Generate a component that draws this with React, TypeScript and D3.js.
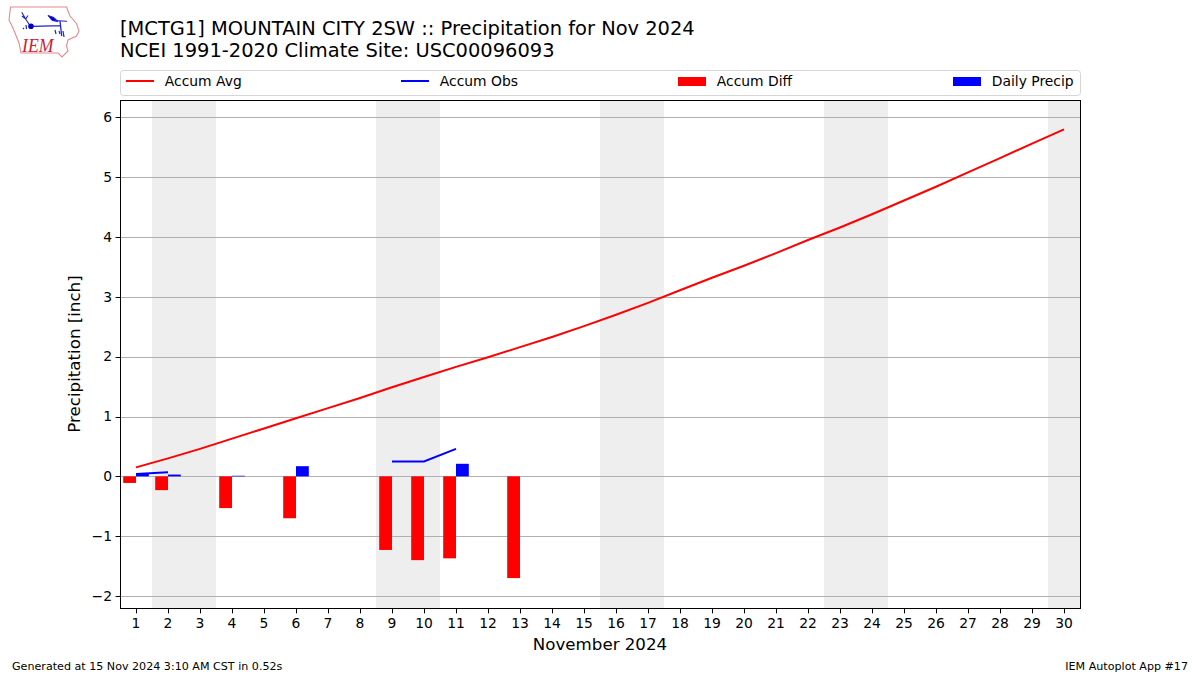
import React from "react";
import * as d3 from "d3";

const days = d3.range(1, 31);
const accumAvg = [0.15,0.30,0.46,0.63,0.80,0.97,1.14,1.31,1.49,1.66,1.83,1.99,2.16,2.33,2.51,2.70,2.90,3.11,3.32,3.52,3.73,3.95,4.16,4.38,4.61,4.84,5.08,5.32,5.56,5.80];
const accumObs: (number | null)[] = [0.04,0.07,null,null,null,null,null,null,0.25,0.25,0.46];
const diffDays = [1,2,4,6,9,10,11,13];
const diffValues = [-0.11,-0.23,-0.53,-0.70,-1.23,-1.40,-1.37,-1.70];
const dailyDays = [1,2,4,6,11];
const dailyValues = [0.05,0.03,0.01,0.17,0.21];
const weekendBands = [[1.5,3.5],[8.5,10.5],[15.5,17.5],[22.5,24.5],[29.5,30.5]];
const yTicks = [-2,-1,0,1,2,3,4,5,6];
const legendItems = [
  { label: "Accum Avg", color: "#ff0000", kind: "line", x: 126 },
  { label: "Accum Obs", color: "#0000ff", kind: "line", x: 401 },
  { label: "Accum Diff", color: "#ff0000", kind: "bar", x: 678 },
  { label: "Daily Precip", color: "#0000ff", kind: "bar", x: 953 },
];

const L = 120.5, R = 1080.5, T = 100, B = 608;
const x = d3.scaleLinear().domain([0.5, 30.5]).range([120, 1080]);
const y = d3.scaleLinear().domain([-2.2, 6.29]).range([608, 100]);
const barW = 0.4;
const font = "'DejaVu Sans', sans-serif";

export default function App() {
  const avgPath = d3.line<number>().x((_, i) => x(days[i])).y((d) => y(d))(accumAvg) ?? "";
  const obsPath = d3.line<number | null>().defined((d) => d !== null).x((_, i) => x(days[i])).y((d) => y(d as number))(accumObs) ?? "";
  return (
    <svg width={1200} height={675} style={{ position: "absolute", left: 0, top: 0, background: "#fff" }} fontFamily={font}>
      {/* logo */}
      <g fill="none">
        <path d="M10.5,7 L66.5,7 L70,16 L76.5,23.5 L79,31 L76.5,36 L68,40 L66.5,46 L68,51 L62,57 L58,53 L21,53 L19,43 L13,28 L9,20 Z" stroke="#e58a8f" strokeWidth={1.1} />
        <path d="M21.7,12.3 L25.7,19 L30,25.7 M25.7,19 L28,15.5 M22,16 L25.7,19" stroke="#2222cc" strokeWidth={1.1} />
        <circle cx={31} cy={26.3} r={2.8} fill="#0000cc" />
        <path d="M33,26.3 L60,25.7 M60,21 L61.7,36" stroke="#2222cc" strokeWidth={1.3} />
        <path d="M48,15.5 L54,17.5 L58,21.5 L52,20.5 Z M55,20.5 L67,21.3" fill="#0000cc" stroke="#2222cc" strokeWidth={1} />
        <path d="M55,30 L56,34 M59,31 L60,34 M63,31 L64,37" stroke="#2222cc" strokeWidth={1.2} />
        <path d="M23,28 L24,29 M26,25 L26.5,29" stroke="#2222cc" strokeWidth={1.2} />
        <text x={22} y={51.5} fontFamily="'Liberation Serif', serif" fontStyle="italic" fontSize={19} fill="#cc2233" textLength={31.5} lengthAdjust="spacingAndGlyphs">IEM</text>
      </g>

      <text x={120} y={35} fontSize={19.44} fill="#000">[MCTG1] MOUNTAIN CITY 2SW :: Precipitation for Nov 2024</text>
      <text x={120} y={57} fontSize={19.44} fill="#000">NCEI 1991-2020 Climate Site: USC00096093</text>

      {/* legend */}
      <rect x={120.5} y={70.5} width={960} height={25} rx={3} fill="#fff" stroke="#d6d6d6" />
      {legendItems.map((it) => (
        <g key={it.label}>
          {it.kind === "line"
            ? <line x1={it.x} x2={it.x + 28} y1={81} y2={81} stroke={it.color} strokeWidth={2} />
            : <rect x={it.x} y={77} width={28} height={9} fill={it.color} />}
          <text x={it.x + 38.8} y={86} fontSize={13.89}>{it.label}</text>
        </g>
      ))}

      {/* weekends */}
      {weekendBands.map(([a, b]) => (
        <rect key={a} x={x(a)} y={T} width={x(b) - x(a)} height={B - T} fill="#eeeeee" />
      ))}

      {/* grid */}
      {yTicks.map((t) => (
        <line key={t} x1={L} x2={R} y1={Math.round(y(t)) + 0.5} y2={Math.round(y(t)) + 0.5} stroke="#b0b0b0" strokeWidth={1.1} />
      ))}

      {/* bars */}
      {diffDays.map((d, i) => (
        <rect key={d} x={x(d - barW)} width={x(d) - x(d - barW)} y={y(0)} height={y(diffValues[i]) - y(0)} fill="#ff0000" />
      ))}
      {dailyDays.map((d, i) => (
        <rect key={d} x={x(d)} width={x(d + barW) - x(d)} y={y(dailyValues[i])} height={y(0) - y(dailyValues[i])} fill="#0000ff" />
      ))}

      <path d={avgPath} fill="none" stroke="#ff0000" strokeWidth={2} />
      <path d={obsPath} fill="none" stroke="#0000ff" strokeWidth={2} />

      {/* frame */}
      <rect x={L} y={T + 0.5} width={R - L} height={B - T} fill="none" stroke="#000" strokeWidth={1} />

      {/* y axis */}
      {yTicks.map((t) => (
        <g key={t}>
          <line x1={L - 4.9} x2={L} y1={Math.round(y(t)) + 0.5} y2={Math.round(y(t)) + 0.5} stroke="#000" />
          <text x={L - 8.5} y={y(t) + 4.8} fontSize={13.89} textAnchor="end">{t < 0 ? "\u2212" + Math.abs(t) : t}</text>
        </g>
      ))}
      {/* x axis */}
      {days.map((d) => (
        <g key={d}>
          <line x1={Math.round(x(d)) + 0.5} x2={Math.round(x(d)) + 0.5} y1={B + 0.5} y2={B + 5.4} stroke="#000" />
          <text x={x(d)} y={628} fontSize={13.89} textAnchor="middle">{d}</text>
        </g>
      ))}

      <text x={600} y={649.5} fontSize={16.67} textAnchor="middle">November 2024</text>
      <text transform={`translate(80,354) rotate(-90)`} fontSize={16.67} textAnchor="middle">Precipitation [inch]</text>

      <text x={12} y={670} fontSize={11.11}>Generated at 15 Nov 2024 3:10 AM CST in 0.52s</text>
      <text x={1188} y={670} fontSize={11.11} textAnchor="end">IEM Autoplot App #17</text>
    </svg>
  );
}
